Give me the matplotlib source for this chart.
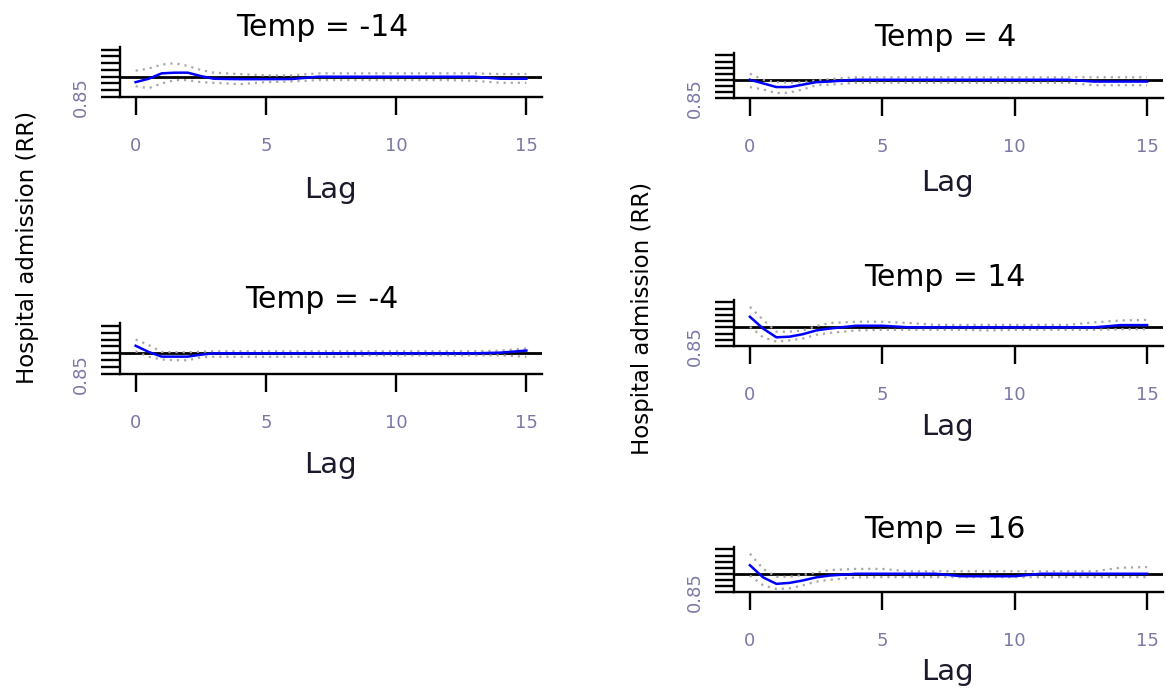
import matplotlib
matplotlib.use("Agg")
import matplotlib.pyplot as plt
import numpy as np

# ---------------------------------------------------------------------------
# Data (lag-response RR with 95% CI)
# ---------------------------------------------------------------------------
lags = [0, 0.5, 1, 1.5, 2, 2.5, 3, 4, 5, 6, 7, 8, 9, 10, 11, 12, 13, 14, 15]

temps = [-14, -4, 4, 14, 16]

rr_m14 = [0.96, 0.985, 1.025, 1.03, 1.03, 1.005, 0.985, 0.982, 0.982, 0.983,
          1.0, 1.0, 1.0, 1.0, 1.0, 1.0, 1.0, 0.985, 0.985]
hi_m14 = [1.045, 1.06, 1.09, 1.10, 1.08, 1.05, 1.03, 1.02, 1.01, 1.01,
          1.025, 1.025, 1.025, 1.025, 1.025, 1.025, 1.025, 1.02, 1.02]
lo_m14 = [0.93, 0.915, 0.95, 0.975, 0.975, 0.96, 0.955, 0.945, 0.96, 0.965,
          0.975, 0.975, 0.975, 0.975, 0.975, 0.975, 0.97, 0.955, 0.955]

rr_m4 = [1.055, 1.01, 0.976, 0.976, 0.976, 0.99, 1.0, 1.0, 1.0, 1.0,
         1.0, 1.0, 1.0, 1.0, 1.0, 1.0, 1.0, 1.005, 1.02]
hi_m4 = [1.10, 1.06, 1.01, 1.008, 1.008, 1.012, 1.015, 1.015, 1.015, 1.015,
         1.015, 1.015, 1.015, 1.015, 1.015, 1.015, 1.015, 1.02, 1.035]
lo_m4 = [1.015, 0.975, 0.955, 0.95, 0.95, 0.97, 0.975, 0.975, 0.975, 0.975,
         0.975, 0.975, 0.985, 0.985, 0.985, 0.985, 0.985, 0.985, 0.975]

rr_4 = [1.0, 0.97, 0.94, 0.94, 0.96, 0.98, 0.985, 1.0, 1.0, 1.0,
        1.0, 1.0, 1.0, 1.0, 1.0, 1.0, 0.985, 0.985, 0.985]
hi_4 = [1.05, 1.0, 0.98, 0.976, 0.98, 0.995, 1.005, 1.02, 1.02, 1.02,
        1.02, 1.02, 1.02, 1.02, 1.02, 1.02, 1.02, 1.02, 1.02]
lo_4 = [0.94, 0.92, 0.89, 0.895, 0.92, 0.955, 0.96, 0.975, 0.975, 0.975,
        0.975, 0.975, 0.975, 0.975, 0.975, 0.975, 0.955, 0.955, 0.955]

rr_14 = [1.085, 0.99, 0.92, 0.925, 0.945, 0.975, 0.99, 1.013, 1.013, 1.0,
         1.0, 1.0, 1.0, 1.0, 1.0, 1.0, 1.0, 1.018, 1.018]
hi_14 = [1.165, 1.06, 0.965, 0.965, 0.975, 1.01, 1.035, 1.045, 1.045, 1.035,
         1.02, 1.02, 1.02, 1.02, 1.02, 1.02, 1.04, 1.055, 1.06]
lo_14 = [1.005, 0.92, 0.885, 0.895, 0.91, 0.94, 0.955, 0.975, 0.98, 0.98,
         0.98, 0.98, 0.975, 0.98, 0.98, 0.98, 0.98, 0.985, 0.985]

rr_16 = [1.07, 0.97, 0.917, 0.925, 0.945, 0.97, 0.985, 1.0, 1.0, 1.0,
         1.0, 0.98, 0.98, 0.98, 1.0, 1.0, 1.0, 1.0, 1.0]
hi_16 = [1.165, 1.04, 0.975, 0.975, 0.99, 1.01, 1.03, 1.04, 1.04, 1.02,
         1.02, 1.02, 1.02, 1.02, 1.02, 1.02, 1.02, 1.05, 1.055]
lo_16 = [0.985, 0.905, 0.875, 0.88, 0.905, 0.935, 0.95, 0.97, 0.972, 0.972,
         0.972, 0.972, 0.972, 0.972, 0.972, 0.972, 0.972, 0.972, 0.972]

xticks = [0, 5, 10, 15]
yticks = [0.85, 0.90, 0.95, 1.00, 1.05, 1.10, 1.15, 1.20]
ytick_labels = ["0.85", "", "", "", "", "", "", ""]

# ---------------------------------------------------------------------------
# Layout (pixel boxes: left, right, top, bottom), title and "Lag" centres
# ---------------------------------------------------------------------------
W, H = 1166, 692
panels = [
    # temp, rr, hi, lo, axes box, title xy, xlabel xy
    (temps[0], rr_m14, hi_m14, lo_m14, (120, 542, 47, 97), (322, 28), (330, 190)),
    (temps[1], rr_m4, hi_m4, lo_m4, (120, 542, 323, 374), (322, 300), (330, 465)),
    (temps[2], rr_4, hi_4, lo_4, (734, 1163, 53, 98), (945, 38), (947, 183)),
    (temps[3], rr_14, hi_14, lo_14, (734, 1163, 300, 346), (945, 278), (947, 427)),
    (temps[4], rr_16, hi_16, lo_16, (734, 1163, 547, 592), (945, 530), (947, 672)),
]

TICK_COLOR = "#7b78a6"

fig = plt.figure(figsize=(W / 100, H / 100), dpi=100)
fig.patch.set_facecolor("white")

for temp, rr, hi, lo, (x0, x1, y0, y1), (tx, ty), (lx, ly) in panels:
    ax = fig.add_axes([x0 / W, 1 - y1 / H, (x1 - x0) / W, (y1 - y0) / H])
    ax.axhline(1.0, color="black", lw=2.0, zorder=1)
    ax.plot(lags, hi, color="#a8a8a8", lw=1.6, ls=(0, (1, 2.2)), zorder=2)
    ax.plot(lags, lo, color="#a8a8a8", lw=1.6, ls=(0, (1, 2.2)), zorder=2)
    ax.plot(lags, rr, color="blue", lw=1.8, zorder=3)

    ax.set_xlim(-0.6, 15.6)
    ax.set_ylim(0.85, 1.22)
    ax.set_xticks(xticks)
    ax.set_yticks(yticks)
    ax.set_yticklabels(ytick_labels, rotation=90, va="center")
    for s in ("top", "right"):
        ax.spines[s].set_visible(False)
    for s in ("left", "bottom"):
        ax.spines[s].set_linewidth(1.7)
    ax.tick_params(axis="x", length=13, width=1.7, pad=16,
                   labelsize=13, labelcolor=TICK_COLOR)
    ax.tick_params(axis="y", length=14, width=1.7, pad=8,
                   labelsize=13, labelcolor=TICK_COLOR)
    ax.set_xlabel("Lag", fontsize=21, color="#1a1a2a", va="center")
    ax.xaxis.set_label_coords(lx / W, 1 - ly / H, transform=fig.transFigure)

    fig.text(tx / W, 1 - ty / H, f"Temp = {temp}", fontsize=21.5,
             ha="center", va="center")

fig.text(28 / W, 1 - 247 / H, "Hospital admission (RR)", rotation=90,
         fontsize=16.5, ha="center", va="center")
fig.text(642 / W, 1 - 318 / H, "Hospital admission (RR)", rotation=90,
         fontsize=16.5, ha="center", va="center")

fig.savefig("out.png", dpi=100)
